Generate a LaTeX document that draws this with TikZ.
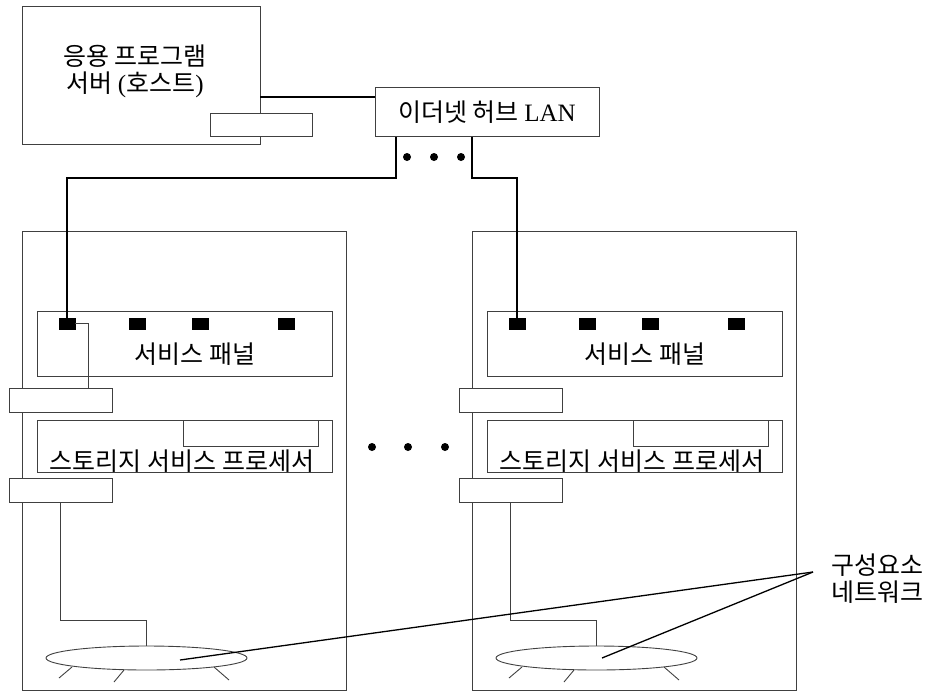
\documentclass[tikz,border=0pt]{standalone}
\usepackage{fontspec}
\setmainfont{Liberation Serif}
\newfontfamily\kr{Noto Sans CJK KR}
\usetikzlibrary{shapes.geometric,calc}
\tikzset{
  frame/.style={draw=black!75, line width=0.9pt, inner sep=0pt, anchor=north west},
  wbox/.style={frame, fill=white},
  port/.style={fill=black, draw=black, inner sep=0pt, minimum width=16pt, minimum height=11pt},
  cable/.style={draw=black, line width=1.8pt},
  thin/.style={draw=black!75, line width=0.9pt},
  ring/.style={ellipse, draw=black!75, line width=0.9pt, inner sep=0pt, minimum width=201pt, minimum height=24pt},
  lead/.style={draw=black, line width=1.3pt},
  txt/.style={font=\fontsize{25}{27}\selectfont\kr, inner sep=0pt, align=center},
  dot/.style={circle, fill=black, inner sep=0pt, minimum size=8pt}
}
\begin{document}
\begin{tikzpicture}[x=1pt,y=-1pt]
\useasboundingbox (0,0) rectangle (936,691);
% host
\node[frame, minimum width=238pt, minimum height=138pt] (host) at (22,6) {};
\node[wbox, minimum width=102pt, minimum height=23pt] (hostcard) at (210,113) {};
\node[txt] (hosttxt) at (135,71) {응용 프로그램\\서버 {\rmfamily(}호스트{\rmfamily)}};
% hub
\node[frame, minimum width=224pt, minimum height=49pt] (hub) at (375,87) {};
\node[txt] (hubtxt) at (487,112) {이더넷 허브 {\rmfamily LAN}};
\node[dot] (hd1) at (407,157) {};
\node[dot] (hd2) at (434,157) {};
\node[dot] (hd3) at (461,157) {};
\coordinate (hostout) at (260,97);
\draw[cable] (hostout) -- (hub.west |- hostout);
% cabinets
\foreach \s/\dx in {L/0,R/450}{
  \begin{scope}[xshift=\dx pt]
    \node[frame, minimum width=324pt, minimum height=459pt] (cab\s) at (22,231) {};
    \node[frame, minimum width=295pt, minimum height=65pt] (panel\s) at (37,311) {};
    \node[port] (pa\s) at (67,323.5) {};
    \node[port] (pb\s) at (137,323.5) {};
    \node[port] (pc\s) at (200,323.5) {};
    \node[port] (pd\s) at (286,323.5) {};
    \node[txt] (paneltxt\s) at (195,354) {서비스 패널};
    \node[frame, minimum width=295pt, minimum height=52pt] (ssp\s) at (37,420) {};
    \node[frame, minimum width=135pt, minimum height=26pt] (sspcard\s) at (183,420) {};
    \node[txt] (ssptxt\s) at (182,461) {스토리지 서비스 프로세서};
    \node[wbox, minimum width=103pt, minimum height=24pt] (sba\s) at (9,388) {};
    \node[wbox, minimum width=103pt, minimum height=24pt] (sbb\s) at (9,478) {};
    \node[ring] (ring\s) at (146.5,658) {};
    \draw[thin] ([xshift=51pt]sbb\s.south west) |- ([yshift=25pt]ring\s.north) -- (ring\s.north);
    \draw[thin] (72,667) -- (59,678);
    \draw[thin] (124,670) -- (114,682);
    \draw[thin] (214,667) -- (229,680);
  \end{scope}
}
\draw[thin] (paL.east) -| ([xshift=-24pt]sbaL.north east);
% hub cables
\draw[cable] ([xshift=21pt]hub.south west) -- ++(0,41) -| (paL.north);
\draw[cable] ([xshift=97pt]hub.south west) -- ++(0,41) -| (paR.north);
% middle dots
\node[dot] (md1) at (372,447) {};
\node[dot] (md2) at (408,447) {};
\node[dot] (md3) at (445,447) {};
% label
\node[txt, align=left, anchor=west] (lbl) at (831,579) {구성요소\\네트워크};
\coordinate (leadpt) at (813,572);
\draw[lead] (leadpt) -- ($(ringL)+(33.5,2)$);
\draw[lead] (leadpt) -- ($(ringR)+(5.5,0)$);
\end{tikzpicture}
\end{document}
